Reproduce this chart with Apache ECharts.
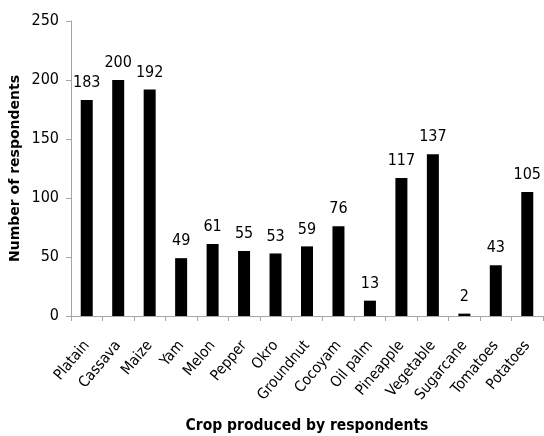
<!DOCTYPE html>
<html>
<head>
<meta charset="utf-8">
<script src="https://cdn.jsdelivr.net/npm/echarts@6/dist/echarts.min.js"></script>
<style>
  html, body { margin: 0; padding: 0; background: #fff; }
  #chart { width: 544px; height: 436px; }
</style>
</head>
<body>
<div id="chart"></div>
<script>
// Crops and how many respondents grow each one
const crops = ['Platain', 'Cassava', 'Maize', 'Yam', 'Melon', 'Pepper', 'Okro', 'Groundnut',
  'Cocoyam', 'Oil palm', 'Pineapple', 'Vegetable', 'Sugarcane', 'Tomatoes', 'Potatoes'];
const respondents = [183, 200, 192, 49, 61, 55, 53, 59, 76, 13, 117, 137, 2, 43, 105];
const yTicks = [0, 50, 100, 150, 200, 250];

const textFont = '"DejaVu Sans Condensed", "Liberation Sans Narrow", sans-serif';
const numberFont = '"Liberation Sans Narrow", "DejaVu Sans Condensed", sans-serif';

const chart = echarts.init(document.getElementById('chart'));
chart.setOption({
  animation: false,
  grid: { left: 71, right: 1, top: 21, bottom: 120, outerBoundsMode: 'none', containLabel: false },
  xAxis: {
    type: 'category',
    data: crops,
    axisLine: { lineStyle: { color: '#a6a6a6' } },
    axisTick: { show: true, length: 5, lineStyle: { color: '#a6a6a6' } },
    axisLabel: {
      interval: 0, rotate: 50, color: '#000', fontSize: 15, fontFamily: textFont, margin: 27
    },
    name: 'Crop produced by respondents',
    nameLocation: 'middle',
    nameGap: 102,
    nameMoveOverlap: false,
    nameTextStyle: { color: '#000', fontSize: 15.5, fontFamily: numberFont, fontWeight: 'bold' }
  },
  yAxis: {
    type: 'value',
    min: yTicks[0],
    max: yTicks[yTicks.length - 1],
    interval: 50,
    splitLine: { show: false },
    axisLine: { show: true, lineStyle: { color: '#a6a6a6' } },
    axisTick: { show: true, length: 5, lineStyle: { color: '#a6a6a6' } },
    axisLabel: { color: '#000', fontSize: 16, fontFamily: numberFont, margin: 12 },
    name: 'Number of respondents',
    nameLocation: 'middle',
    nameGap: 49,
    nameMoveOverlap: false,
    nameTextStyle: { color: '#000', fontSize: 14, fontFamily: '"DejaVu Sans", sans-serif', fontWeight: 'bold' }
  },
  series: [{
    type: 'bar',
    data: respondents,
    barWidth: 12,
    itemStyle: { color: '#000' },
    label: {
      show: true, position: 'top', distance: 9, color: '#000',
      fontSize: 16, fontFamily: numberFont
    }
  }]
});
</script>
</body>
</html>
